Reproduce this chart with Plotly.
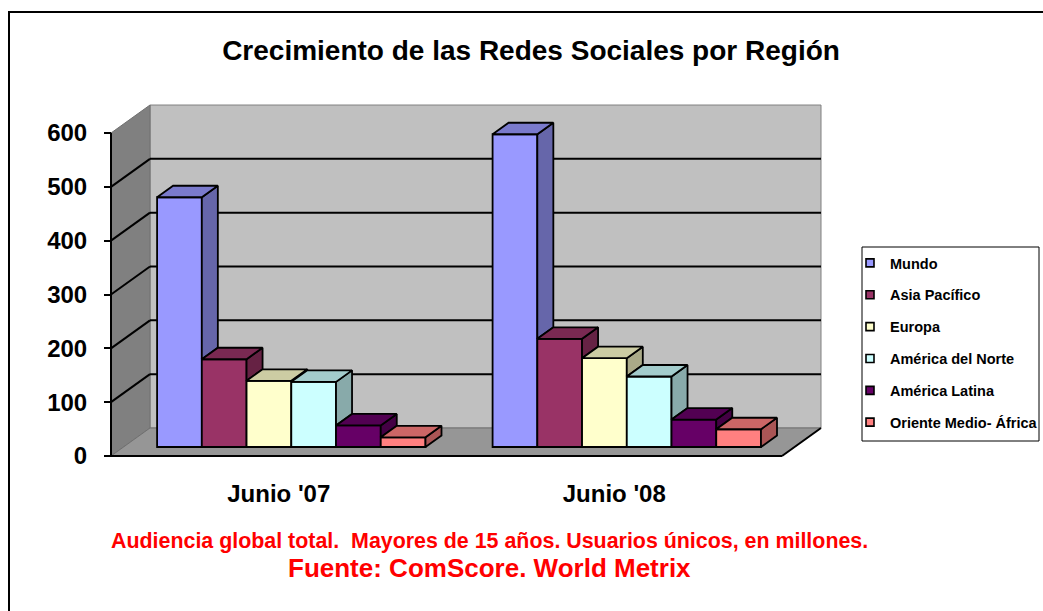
import plotly.graph_objects as go

# ---------------- data ----------------
categories = ["Junio '07", "Junio '08"]
series_names = ["Mundo", "Asia Pacífico", "Europa", "América del Norte",
                "América Latina", "Oriente Medio- África"]
mundo = [464, 581]
asia_pacifico = [163, 201]
europa = [123, 165]
america_norte = [121, 131]
america_latina = [40, 51]
oriente_medio_africa = [18, 33]
y_ticks = [0, 100, 200, 300, 400, 500, 600]

series_values = [mundo, asia_pacifico, europa, america_norte,
                 america_latina, oriente_medio_africa]

# ---------------- styles ----------------
front_colors = ["#9999FF", "#993366", "#FFFFCC", "#CCFFFF", "#660066", "#FF8080"]
top_colors = ["#7A7ACC", "#7A2952", "#CCCCA3", "#A3CCCC", "#520052", "#CC6666"]
side_colors = ["#6666AA", "#662244", "#AAAA88", "#88AAAA", "#440044", "#AA5555"]

FONT = "Liberation Sans, Arial, sans-serif"

# ---------------- oblique 3D geometry (pixel calibration) ----------------
W, H = 1043, 611
L, R, T, B = 100, 830, 100, 461          # plot area in pixels
PX0, PXU = 111.0, 335.5                  # lateral -0.5 at front -> px, px per category
PY0, PYU = 456.0, 0.5383                 # value 0 at front -> px, px per unit
DX = 39.0 / PXU                          # full floor depth shift (x, data units)
DY = 28.0 / PYU                          # full floor depth shift (y, data units)
T_F = 9.0 / 28.0                         # depth of bar front faces
T_B = 20.5 / 28.0                        # depth of bar back faces
VMAX = y_ticks[-1]
LAT0, LAT1 = -0.5, len(categories) - 0.5
GROUP = 0.8

x_range = [(L - PX0) / PXU - 0.5, (R - PX0) / PXU - 0.5]
y_range = [(PY0 - B) / PYU, (PY0 - T) / PYU]


def proj(lat, val, t):
    return lat + t * DX, val + t * DY


def ppx(px):
    return (px - L) / (R - L)


def ppy(py):
    return (B - py) / (B - T)


def path(points):
    return "M " + " L ".join(f"{x},{y}" for x, y in points) + " Z"


fig = go.Figure()

# ---------------- walls / floor ----------------
shapes = []
back_wall = [proj(LAT0, 0, 1), proj(LAT1, 0, 1), proj(LAT1, VMAX, 1), proj(LAT0, VMAX, 1)]
left_wall = [proj(LAT0, 0, 0), proj(LAT0, 0, 1), proj(LAT0, VMAX, 1), proj(LAT0, VMAX, 0)]
floor = [proj(LAT0, 0, 0), proj(LAT1, 0, 0), proj(LAT1, 0, 1), proj(LAT0, 0, 1)]
shapes.append(dict(type="path", xref="x", yref="y", path=path(back_wall),
                   fillcolor="#C0C0C0", line=dict(color="#808080", width=1), layer="below"))
shapes.append(dict(type="path", xref="x", yref="y", path=path(left_wall),
                   fillcolor="#808080", line=dict(color="#707070", width=1), layer="below"))
shapes.append(dict(type="path", xref="x", yref="y", path=path(floor),
                   fillcolor="#969696", line=dict(color="#707070", width=1), layer="below"))
for v in y_ticks[1:-1]:
    a, b = proj(LAT0, v, 1), proj(LAT1, v, 1)
    shapes.append(dict(type="line", xref="x", yref="y", x0=a[0], y0=a[1], x1=b[0], y1=b[1],
                       line=dict(color="black", width=2), layer="below"))
    c = proj(LAT0, v, 0)
    shapes.append(dict(type="line", xref="x", yref="y", x0=c[0], y0=c[1], x1=a[0], y1=a[1],
                       line=dict(color="black", width=2), layer="below"))
# front axis line and floor front/right edges
a, b = proj(LAT0, 0, 0), proj(LAT0, VMAX, 0)
shapes.append(dict(type="line", xref="x", yref="y", x0=a[0], y0=a[1], x1=b[0], y1=b[1],
                   line=dict(color="black", width=2), layer="below"))
c = proj(LAT1, 0, 0)
shapes.append(dict(type="line", xref="x", yref="y", x0=a[0], y0=a[1], x1=c[0], y1=c[1],
                   line=dict(color="black", width=2), layer="below"))
d = proj(LAT1, 0, 1)
shapes.append(dict(type="line", xref="x", yref="y", x0=c[0], y0=c[1], x1=d[0], y1=d[1],
                   line=dict(color="black", width=2), layer="below"))

# legend box and outer frame
shapes.append(dict(type="rect", xref="paper", yref="paper",
                   x0=ppx(862), x1=ppx(1039), y0=ppy(441), y1=ppy(247),
                   line=dict(color="black", width=1), fillcolor="white", layer="below"))
shapes.append(dict(type="rect", xref="paper", yref="paper",
                   x0=ppx(9), x1=ppx(1100), y0=ppy(700), y1=ppy(12),
                   line=dict(color="black", width=2), fillcolor="rgba(0,0,0,0)", layer="below"))

# ---------------- bars: front faces ----------------
n_series = len(series_values)
bw = GROUP / n_series
for i, vals in enumerate(series_values):
    fig.add_trace(go.Bar(
        x=[k + T_F * DX for k in range(len(categories))], y=vals, base=T_F * DY,
        marker=dict(color=front_colors[i], line=dict(color="black", width=1.8)),
        name=series_names[i], showlegend=False, hoverinfo="skip"))

# ---------------- bars: top and side faces ----------------
for i, vals in enumerate(series_values):
    tx, ty, sx, sy = [], [], [], []
    for k, v in enumerate(vals):
        a = k - GROUP / 2 + i * bw
        b = a + bw
        top = [proj(a, v, T_F), proj(b, v, T_F), proj(b, v, T_B), proj(a, v, T_B), proj(a, v, T_F)]
        tx += [p[0] for p in top] + [None]
        ty += [p[1] for p in top] + [None]
        low = series_values[i + 1][k] if i + 1 < n_series else 0
        if low < v:
            side = [proj(b, low, T_F), proj(b, v, T_F), proj(b, v, T_B), proj(b, low, T_B),
                    proj(b, low, T_F)]
            sx += [p[0] for p in side] + [None]
            sy += [p[1] for p in side] + [None]
    fig.add_trace(go.Scatter(x=sx, y=sy, mode="lines", fill="toself",
                             fillcolor=side_colors[i], line=dict(color="black", width=1.8),
                             showlegend=False, hoverinfo="skip"))
    fig.add_trace(go.Scatter(x=tx, y=ty, mode="lines", fill="toself",
                             fillcolor=top_colors[i], line=dict(color="black", width=1.8),
                             showlegend=False, hoverinfo="skip"))

# ---------------- legend entries ----------------
for i, name in enumerate(series_names):
    fig.add_trace(go.Scatter(
        x=[None], y=[None], mode="markers", name=name, legendgroup=name,
        marker=dict(symbol="square", size=8, color=front_colors[i],
                    line=dict(color="black", width=1.6))))

# ---------------- annotations ----------------
annotations = [
    dict(text="Audiencia global total.\u00a0 Mayores de 15 años. Usuarios únicos, en millones.",
         xref="paper", yref="paper", x=ppx(489), y=ppy(541), xanchor="center", yanchor="middle",
         showarrow=False, font=dict(family=FONT, size=21.4, color="#FF0000", weight="bold")),
    dict(text="Fuente: ComScore. World Metrix",
         xref="paper", yref="paper", x=ppx(489), y=ppy(568), xanchor="center", yanchor="middle",
         showarrow=False, font=dict(family=FONT, size=26, color="#FF0000", weight="bold")),
]

fig.update_layout(
    width=W, height=H,
    margin=dict(l=L, r=W - R, t=T, b=H - B, autoexpand=False),
    paper_bgcolor="white", plot_bgcolor="rgba(0,0,0,0)",
    barmode="group", bargap=0.2, bargroupgap=0,
    title=dict(text="Crecimiento de las Redes Sociales por Región",
               x=531 / W, xref="container", xanchor="center",
               y=1 - 50 / H, yref="container", yanchor="middle",
               font=dict(family=FONT, size=28, color="black", weight="bold")),
    shapes=shapes, annotations=annotations,
    legend=dict(x=ppx(850), y=ppy(247), xanchor="left", yanchor="top",
                bgcolor="rgba(0,0,0,0)", borderwidth=0, tracegroupgap=10,
                font=dict(family=FONT, size=14.5, color="black", weight="bold"),
                traceorder="grouped"),
    xaxis=dict(range=x_range, tickvals=list(range(len(categories))), ticktext=categories,
               showgrid=False, zeroline=False, showline=False, ticks="",
               ticklabelstandoff=16, fixedrange=True,
               tickfont=dict(family=FONT, size=24, color="black", weight="bold")),
    yaxis=dict(range=y_range, tickvals=y_ticks, ticktext=[str(t) for t in y_ticks],
               anchor="free", position=ppx(PX0), showgrid=False, zeroline=False,
               showline=False, ticks="outside", ticklen=7, tickwidth=2, tickcolor="black",
               ticklabelstandoff=12, fixedrange=True,
               tickfont=dict(family=FONT, size=24, color="black", weight="bold")),
    showlegend=True,
)

fig.write_html("out.html")
